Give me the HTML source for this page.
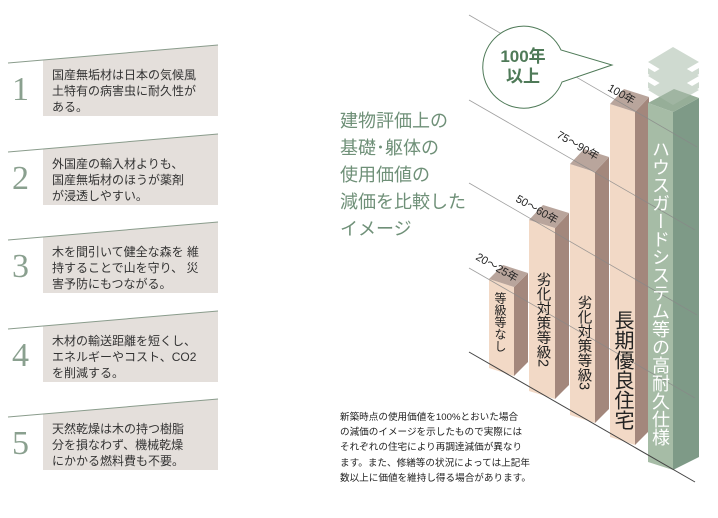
<!DOCTYPE html>
<html><head><meta charset="utf-8"><style>
body{margin:0;width:718px;height:518px;background:#fff;position:relative;overflow:hidden;font-family:"Liberation Sans","Noto Sans CJK JP",sans-serif}
.item{position:absolute;left:0;width:220px;height:90px}
.num{position:absolute;left:12px;top:26px;font-family:"Liberation Serif","Noto Serif CJK SC",serif;font-size:34px;color:#8aa08f}
.txt{position:absolute;left:52px;top:22px;font-size:12px;line-height:16px;color:#333;white-space:nowrap}
.v{position:absolute;writing-mode:vertical-rl;color:#222;white-space:nowrap;line-height:1}
</style></head><body>
<svg width="718" height="518" style="position:absolute;left:0;top:0">
<!-- left boxes -->
<g fill="#e4dfdb" stroke="none">
<polygon points="43,60 218,45 218,116 43,116"/>
<polygon points="43,149 218,134 218,205 43,205"/>
<polygon points="43,237 218,222 218,293 43,293"/>
<polygon points="43,326 218,311 218,382 43,382"/>
<polygon points="43,414 218,399 218,470 43,470"/>
</g>
<g stroke="#8a9c8c" stroke-width="1">
<line x1="8" y1="63" x2="218" y2="45"/>
<line x1="8" y1="152" x2="218" y2="134"/>
<line x1="8" y1="240" x2="218" y2="222"/>
<line x1="8" y1="329" x2="218" y2="311"/>
<line x1="8" y1="417" x2="218" y2="399"/>
</g>
<!-- bars -->
<g>
<polygon points="489,279 514,287 514,376 489,368" fill="#f2d9c6"/>
<polygon points="514,287 528,273 528,362 514,376" fill="#a3877c"/>
<polygon points="489,279 514,287 528,273 503,265" fill="#b9a59c"/>

<polygon points="529,220 555,228 555,399 529,391" fill="#f2d9c6"/>
<polygon points="555,228 569,213 569,385 555,399" fill="#a3877c"/>
<polygon points="529,220 555,228 569,213 543,205" fill="#b9a59c"/>

<polygon points="570,164 595,172 595,423 570,415" fill="#f2d9c6"/>
<polygon points="595,172 609,157 609,409 595,423" fill="#a3877c"/>
<polygon points="570,164 595,172 609,157 584,149" fill="#b9a59c"/>

<polygon points="610,104 635,112 635,445 610,437" fill="#f2d9c6"/>
<polygon points="635,112 649,97 649,431 635,445" fill="#a3877c"/>
<polygon points="610,104 635,112 649,97 624,89" fill="#b9a59c"/>

<polygon points="648,103 673,112 673,470 648,462" fill="#a6bca6"/>
<polygon points="673,112 699,98 699,457 673,470" fill="#7e9a87"/>
<polygon points="648,103 673,112 699,98 674,89" fill="#96ae98"/>
<g fill="#a9bcab" opacity="0.55">
<polygon points="648,62 673,47 699,62 673,77"/>
<polygon points="648,68 673,83 699,68 699,74 673,89 648,74"/>
<polygon points="648,76 673,61 699,76 673,91"/>
<polygon points="648,90 673,75 699,90 673,105"/>
<polygon points="648,82 673,97 699,82 699,88 673,103 648,88"/>
</g>
</g>
<!-- lines -->
<g stroke="#888" stroke-width="0.8" opacity="0.8">
<line x1="469" y1="15" x2="697" y2="147"/>
<line x1="469" y1="100" x2="695" y2="230"/>
<line x1="469" y1="183" x2="697" y2="315"/>
<line x1="469" y1="268" x2="695" y2="398"/>
</g>
<line x1="469" y1="352" x2="695" y2="482" stroke="#444" stroke-width="1"/>
<!-- year labels -->
<g font-size="11" fill="#222" font-family="Liberation Sans,Noto Sans CJK JP,sans-serif">
<text transform="translate(607,90) rotate(30)">100年</text>
<text transform="translate(556,137) rotate(30)">75〜90年</text>
<text transform="translate(515,201) rotate(30)">50〜60年</text>
<text transform="translate(475,259) rotate(30)">20〜25年</text>
</g>
<!-- bubble -->
<path d="M 561,50 A 41 41 0 1 0 562,82 L 612,65 Z" fill="#fff" stroke="#4f7a58" stroke-width="1"/>
<text x="523" y="62" text-anchor="middle" font-size="17" font-weight="bold" fill="#4f7a58" font-family="Liberation Sans,Noto Sans CJK JP,sans-serif">100年</text>
<text x="523" y="82" text-anchor="middle" font-size="17" font-weight="bold" fill="#4f7a58" font-family="Liberation Sans,Noto Sans CJK JP,sans-serif">以上</text>
</svg>

<div class="item" style="top:45px"><div class="num">1</div><div class="txt">国産無垢材は日本の気候風<br>土特有の病害虫に耐久性が<br>ある。</div></div>
<div class="item" style="top:134px"><div class="num">2</div><div class="txt">外国産の輸入材よりも、<br>国産無垢材のほうが薬剤<br>が浸透しやすい。</div></div>
<div class="item" style="top:222px"><div class="num">3</div><div class="txt">木を間引いて健全な森を 維<br>持することで山を守り、 災<br>害予防にもつながる。</div></div>
<div class="item" style="top:311px"><div class="num">4</div><div class="txt">木材の輸送距離を短くし、<br>エネルギーやコスト、CO2<br>を削減する。</div></div>
<div class="item" style="top:399px"><div class="num">5</div><div class="txt">天然乾燥は木の持つ樹脂<br>分を損なわず、機械乾燥<br>にかかる燃料費も不要。</div></div>

<div style="position:absolute;left:340px;top:108px;font-size:18px;line-height:27px;color:#6f9078;white-space:nowrap">建物評価上の<br>基礎･躯体の<br>使用価値の<br>減価を比較した<br>イメージ</div>

<div style="position:absolute;left:340px;top:410px;font-size:9.6px;line-height:15.2px;color:#222;white-space:nowrap">新築時点の使用価値を100%とおいた場合<br>の減価のイメージを示したもので実際には<br>それぞれの住宅により再調達減価が異なり<br>ます。また、修繕等の状況によっては上記年<br>数以上に価値を維持し得る場合があります。</div>

<div class="v" style="left:494px;top:292px;font-size:12px">等級等なし</div>
<div class="v" style="left:535px;top:272px;font-size:14.5px">劣化対策等級2</div>
<div class="v" style="left:576px;top:295px;font-size:14.5px">劣化対策等級3</div>
<div class="v" style="left:612px;top:310px;font-size:20px">長期優良住宅</div>
<div class="v" style="left:651px;top:140px;font-size:18px;color:#fff">ハウスガードシステム等の高耐久仕様</div>
</body></html>
